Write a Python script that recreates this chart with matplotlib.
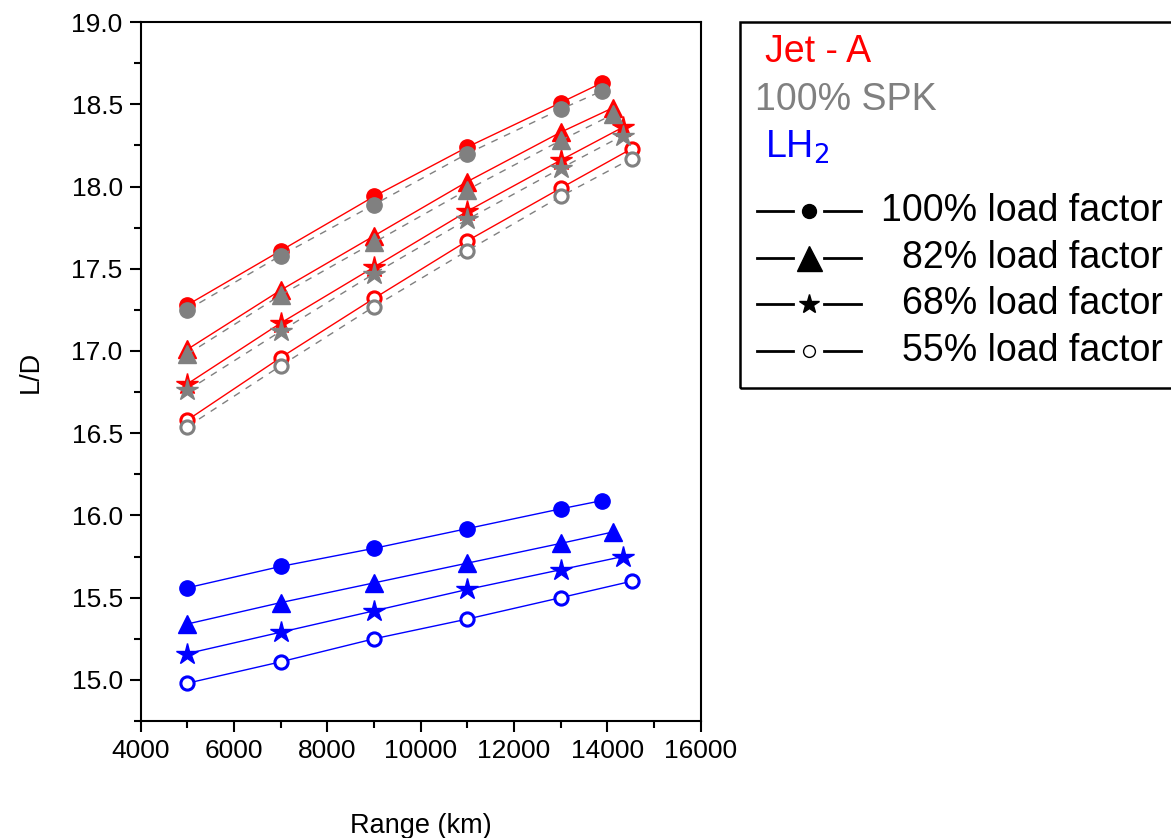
import matplotlib
matplotlib.use("Agg")
import matplotlib.pyplot as plt
from matplotlib.lines import Line2D
from matplotlib.patches import Rectangle
from matplotlib.ticker import MultipleLocator, FormatStrFormatter

plt.rcParams["font.family"] = ["Liberation Sans", "DejaVu Sans"]

LOADS = ["100%", "82%", "68%", "55%"]
MARKERS = ["o", "^", "*", "o"]
FILLED = [True, True, True, False]

# range (km) per load factor; last point is the max range
X_100 = [5000, 7000, 9000, 11000, 13000, 13880]
X_82 = [5000, 7000, 9000, 11000, 13000, 14130]
X_68 = [5000, 7000, 9000, 11000, 13000, 14330]
X_55 = [5000, 7000, 9000, 11000, 13000, 14520]
XS = [X_100, X_82, X_68, X_55]

# L/D values
JETA_100 = [17.28, 17.61, 17.94, 18.24, 18.51, 18.63]
JETA_82 = [17.01, 17.37, 17.70, 18.03, 18.33, 18.48]
JETA_68 = [16.80, 17.17, 17.51, 17.85, 18.16, 18.36]
JETA_55 = [16.58, 16.96, 17.32, 17.67, 17.99, 18.23]

SPK_100 = [17.25, 17.58, 17.89, 18.20, 18.47, 18.58]
SPK_82 = [16.98, 17.34, 17.66, 17.98, 18.28, 18.44]
SPK_68 = [16.76, 17.12, 17.47, 17.80, 18.11, 18.31]
SPK_55 = [16.54, 16.91, 17.27, 17.61, 17.94, 18.17]

LH2_100 = [15.56, 15.69, 15.80, 15.92, 16.04, 16.09]
LH2_82 = [15.34, 15.47, 15.59, 15.71, 15.83, 15.90]
LH2_68 = [15.16, 15.29, 15.42, 15.55, 15.67, 15.75]
LH2_55 = [14.98, 15.11, 15.25, 15.37, 15.50, 15.60]

FUELS = [
    ("Jet - A", "#ff0000", "-", [JETA_100, JETA_82, JETA_68, JETA_55]),
    ("100% SPK", "#808080", (0, (5, 5)), [SPK_100, SPK_82, SPK_68, SPK_55]),
    ("LH$_2$", "#0000ff", "-", [LH2_100, LH2_82, LH2_68, LH2_55]),
]

MS = {"o": 11, "^": 13.5, "*": 16}

fig = plt.figure(figsize=(11.71, 8.38), dpi=100)
ax = fig.add_axes([0.1202, 0.1396, 0.4782, 0.8341])

for name, col, ls, series in FUELS:
    for x, y, m, filled in zip(XS, series, MARKERS, FILLED):
        ms = MS[m] if filled else 9.5
        ax.plot(x, y, color=col, ls=ls, lw=1.0, marker=m, ms=ms,
                mfc=col if filled else "white", mec=col,
                mew=1.0 if filled else 2.2)

ax.set_xlim(4000, 16000)
ax.set_ylim(14.75, 19.0)
ax.xaxis.set_major_locator(MultipleLocator(2000))
ax.xaxis.set_minor_locator(MultipleLocator(1000))
ax.yaxis.set_major_locator(MultipleLocator(0.5))
ax.yaxis.set_minor_locator(MultipleLocator(0.25))
ax.yaxis.set_major_formatter(FormatStrFormatter("%.1f"))
ax.tick_params(which="major", direction="out", length=8, width=1.5,
               labelsize=19, pad=5)
ax.tick_params(which="minor", direction="out", length=5, width=1.5)
for s in ax.spines.values():
    s.set_linewidth(1.5)
ax.set_xlabel("Range (km)", fontsize=19.5, labelpad=36)
ax.set_ylabel("L/D", fontsize=19.5, labelpad=20)

# custom legend box
fig.add_artist(Rectangle((740 / 1171, 1 - 388 / 838), 0.4, (388 - 22) / 838,
                         transform=fig.transFigure, fill=False,
                         ec="black", lw=1.8))
fuel_y = [52, 100, 147]
fuel_x = [765, 755, 765]
for (name, col, ls, series), yy, xx in zip(FUELS, fuel_y, fuel_x):
    fig.text(xx / 1171, 1 - yy / 838, name, color=col, fontsize=27,
             ha="left", va="center")

load_y = [211, 258, 304, 351]
load_ms = {"o": 10, "^": 18, "*": 15}
for lab, m, filled, yy in zip(LOADS, MARKERS, FILLED, load_y):
    fy = 1 - yy / 838
    fig.add_artist(Line2D([757 / 1171, 793 / 1171], [fy, fy], color="black",
                          lw=2, transform=fig.transFigure))
    fig.add_artist(Line2D([824 / 1171, 861 / 1171], [fy, fy], color="black",
                          lw=2, transform=fig.transFigure))
    fig.add_artist(Line2D([808.5 / 1171], [fy], marker=m,
                          ms=load_ms[m] if filled else 8.5,
                          mfc="black" if filled else "white", mec="black",
                          mew=1.0, ls="none", transform=fig.transFigure))
    fig.text(1163 / 1171, fy, f"{lab} load factor", fontsize=27,
             ha="right", va="center")

fig.savefig("out.png", dpi=100)
